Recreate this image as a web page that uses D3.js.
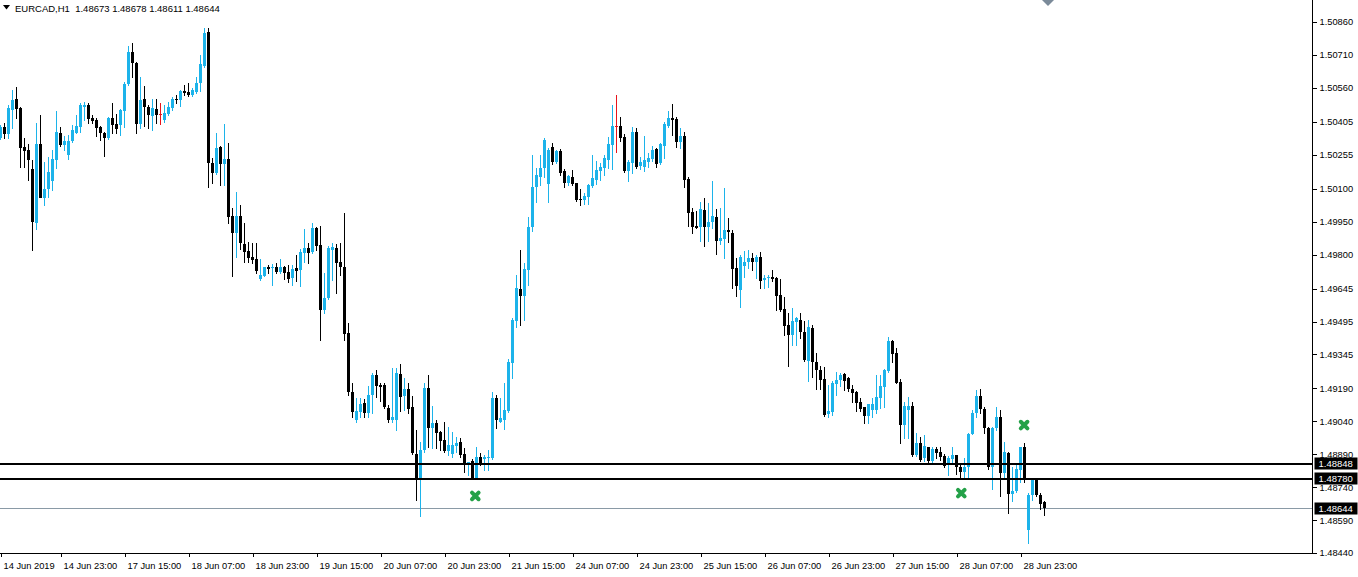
<!DOCTYPE html>
<html><head><meta charset="utf-8">
<script src="https://cdn.jsdelivr.net/npm/d3@7"></script>
<style>html,body{margin:0;padding:0;background:#fff;overflow:hidden}svg{display:block}</style>
</head><body>
<svg id="c" width="1358" height="577"></svg>
<script>
const title = "EURCAD,H1  1.48673 1.48678 1.48611 1.48644";
const opens = [
1.50331,1.50381,1.50349,1.50459,1.50509,1.50468,1.50290,1.50276,1.50190,1.49944,
1.50304,1.50058,1.50099,1.50135,1.50231,1.50354,1.50299,1.50254,1.50317,1.50354,
1.50381,1.50472,1.50481,1.50422,1.50413,1.50381,1.50354,1.50331,1.50422,1.50395,
1.50390,1.50454,1.50577,1.50723,1.50673,1.50395,1.50509,1.50472,1.50431,1.50463,
1.50440,1.50413,1.50440,1.50468,1.50509,1.50504,1.50545,1.50541,1.50527,1.50541,
1.50582,1.50659,1.50814,1.50217,1.50172,1.50290,1.50213,1.50235,1.49976,1.49898,
1.49976,1.49848,1.49816,1.49789,1.49780,1.49689,1.49702,1.49743,1.49739,1.49743,
1.49721,1.49743,1.49721,1.49693,1.49739,1.49730,1.49807,1.49830,1.49812,1.49921,
1.49844,1.49547,1.49602,1.49821,1.49830,1.49766,1.49743,1.49443,1.49174,1.49046,
1.49083,1.49124,1.49078,1.49160,1.49251,1.49206,1.49206,1.49101,1.49046,1.49046,
1.49256,1.49155,1.49187,1.49105,1.48891,1.48782,1.48909,1.49192,1.49010,1.49032,
1.48991,1.48955,1.48905,1.48891,1.48928,1.48946,1.48891,1.48846,1.48859,1.48782,
1.48877,1.48868,1.48873,1.48873,1.49146,1.49037,1.49046,1.49087,1.49306,1.49497,
1.49643,1.49611,1.49730,1.49926,1.50108,1.50153,1.50194,1.50122,1.50290,1.50222,
1.50272,1.50181,1.50126,1.50153,1.50126,1.50053,1.50049,1.50062,1.50112,1.50140,
1.50181,1.50194,1.50231,1.50299,1.50386,1.50386,1.50336,1.50181,1.50217,1.50358,
1.50204,1.50199,1.50222,1.50235,1.50281,1.50217,1.50295,1.50386,1.50422,1.50418,
1.50313,1.50340,1.50144,1.49994,1.49930,1.49926,1.50003,1.49926,1.49948,1.49971,
1.49862,1.49871,1.49912,1.49898,1.49739,1.49638,1.49748,1.49766,1.49784,1.49766,
1.49789,1.49684,1.49693,1.49698,1.49693,1.49616,1.49552,1.49479,1.49433,1.49493,
1.49502,1.49447,1.49315,1.49465,1.49310,1.49274,1.49233,1.49073,1.49083,1.49210,
1.49228,1.49256,1.49237,1.49187,1.49174,1.49128,1.49105,1.49064,1.49092,1.49092,
1.49146,1.49196,1.49269,1.49406,1.49351,1.49219,1.49023,1.49092,1.49110,1.48887,
1.48941,1.48873,1.48923,1.48859,1.48914,1.48900,1.48882,1.48841,1.48868,1.48887,
1.48832,1.48809,1.48832,1.48982,1.49078,1.49155,1.49096,1.49010,1.48832,1.49010,
1.49060,1.48805,1.48896,1.48709,1.48722,1.48818,1.48923,1.48545,1.48704,1.48782,
1.48704,1.48673];
const highs = [
1.50390,1.50399,1.50481,1.50550,1.50563,1.50472,1.50331,1.50304,1.50231,1.50399,
1.50436,1.50222,1.50245,1.50276,1.50454,1.50381,1.50340,1.50345,1.50390,1.50436,
1.50491,1.50495,1.50491,1.50436,1.50422,1.50386,1.50358,1.50427,1.50491,1.50440,
1.50463,1.50586,1.50750,1.50764,1.50677,1.50609,1.50568,1.50481,1.50509,1.50509,
1.50491,1.50481,1.50495,1.50518,1.50527,1.50550,1.50573,1.50582,1.50559,1.50609,
1.50709,1.50832,1.50832,1.50240,1.50354,1.50295,1.50395,1.50308,1.50012,1.50085,
1.50026,1.49944,1.49857,1.49853,1.49853,1.49780,1.49743,1.49752,1.49757,1.49762,
1.49780,1.49748,1.49752,1.49752,1.49798,1.49825,1.49916,1.49853,1.49944,1.49926,
1.49930,1.49716,1.49839,1.49853,1.49848,1.49853,1.49989,1.49488,1.49215,1.49146,
1.49146,1.49142,1.49201,1.49260,1.49274,1.49215,1.49215,1.49114,1.49283,1.49283,
1.49301,1.49237,1.49215,1.49155,1.49000,1.48946,1.49215,1.49251,1.49110,1.49046,
1.48996,1.49037,1.49014,1.48991,1.48969,1.48964,1.48918,1.48855,1.48868,1.48923,
1.48896,1.48887,1.48909,1.49174,1.49160,1.49146,1.49215,1.49324,1.49511,1.49707,
1.49821,1.49762,1.49971,1.50254,1.50194,1.50254,1.50331,1.50286,1.50308,1.50276,
1.50281,1.50190,1.50163,1.50185,1.50126,1.50099,1.50081,1.50122,1.50254,1.50226,
1.50217,1.50254,1.50336,1.50481,1.50527,1.50427,1.50349,1.50231,1.50381,1.50377,
1.50245,1.50340,1.50263,1.50295,1.50286,1.50308,1.50404,1.50454,1.50486,1.50427,
1.50377,1.50358,1.50153,1.50012,1.49998,1.50039,1.50058,1.50035,1.50135,1.50008,
1.50012,1.50103,1.49967,1.49912,1.49784,1.49798,1.49816,1.49821,1.49807,1.49798,
1.49812,1.49707,1.49707,1.49730,1.49698,1.49689,1.49607,1.49534,1.49556,1.49515,
1.49534,1.49497,1.49502,1.49479,1.49351,1.49292,1.49288,1.49206,1.49224,1.49265,
1.49260,1.49260,1.49242,1.49206,1.49178,1.49146,1.49105,1.49119,1.49146,1.49251,
1.49251,1.49278,1.49424,1.49411,1.49374,1.49233,1.49128,1.49151,1.49128,1.48987,
1.48969,1.48978,1.48923,1.48923,1.48923,1.48923,1.48891,1.48882,1.48923,1.48887,
1.48850,1.48873,1.48987,1.49092,1.49183,1.49187,1.49105,1.49014,1.49014,1.49105,
1.49092,1.48946,1.48900,1.48832,1.48841,1.48923,1.48941,1.48713,1.48782,1.48782,
1.48713,1.48678];
const lows = [
1.50327,1.50331,1.50331,1.50377,1.50422,1.50199,1.50199,1.50140,1.49821,1.49916,
1.50117,1.50026,1.50062,1.50094,1.50194,1.50295,1.50276,1.50235,1.50313,1.50354,
1.50358,1.50413,1.50399,1.50399,1.50340,1.50322,1.50249,1.50327,1.50354,1.50354,
1.50345,1.50381,1.50573,1.50609,1.50354,1.50377,1.50386,1.50377,1.50368,1.50399,
1.50395,1.50404,1.50436,1.50459,1.50491,1.50477,1.50527,1.50522,1.50522,1.50536,
1.50545,1.50655,1.50108,1.50126,1.50167,1.50117,1.50117,1.49944,1.49702,1.49789,
1.49825,1.49766,1.49766,1.49762,1.49716,1.49684,1.49702,1.49716,1.49661,1.49716,
1.49716,1.49689,1.49675,1.49661,1.49679,1.49657,1.49766,1.49762,1.49807,1.49821,
1.49411,1.49534,1.49597,1.49684,1.49625,1.49707,1.49411,1.49160,1.49060,1.49037,
1.49060,1.49060,1.49060,1.49078,1.49151,1.49133,1.49101,1.49037,1.49037,1.49000,
1.49087,1.49092,1.49078,1.48891,1.48681,1.48609,1.48900,1.48923,1.48918,1.48918,
1.48909,1.48900,1.48887,1.48877,1.48900,1.48877,1.48809,1.48795,1.48777,1.48782,
1.48841,1.48818,1.48818,1.48868,1.49010,1.49037,1.49005,1.49083,1.49237,1.49470,
1.49479,1.49502,1.49661,1.49907,1.50039,1.50117,1.50153,1.50039,1.50213,1.50217,
1.50163,1.50108,1.50117,1.50117,1.50044,1.50026,1.50030,1.50030,1.50108,1.50122,
1.50140,1.50163,1.50194,1.50190,1.50267,1.50317,1.50176,1.50135,1.50172,1.50194,
1.50190,1.50181,1.50199,1.50226,1.50199,1.50213,1.50240,1.50381,1.50345,1.50290,
1.50286,1.50108,1.49930,1.49898,1.49921,1.49862,1.49839,1.49862,1.49921,1.49803,
1.49848,1.49784,1.49857,1.49648,1.49611,1.49561,1.49698,1.49739,1.49730,1.49693,
1.49648,1.49648,1.49652,1.49679,1.49547,1.49543,1.49433,1.49292,1.49388,1.49388,
1.49420,1.49315,1.49224,1.49242,1.49187,1.49187,1.49064,1.49060,1.49069,1.49160,
1.49201,1.49183,1.49178,1.49128,1.49087,1.49087,1.49032,1.49032,1.49060,1.49078,
1.49101,1.49105,1.49265,1.49310,1.49215,1.48941,1.48964,1.48964,1.48882,1.48882,
1.48859,1.48859,1.48846,1.48850,1.48873,1.48864,1.48832,1.48795,1.48850,1.48800,
1.48782,1.48782,1.48786,1.48982,1.49060,1.49078,1.48987,1.48823,1.48732,1.49000,
1.48700,1.48786,1.48622,1.48677,1.48718,1.48764,1.48764,1.48486,1.48681,1.48700,
1.48640,1.48611];
const closes = [
1.50381,1.50349,1.50468,1.50504,1.50463,1.50286,1.50272,1.50231,1.49948,1.50304,
1.50058,1.50099,1.50176,1.50235,1.50358,1.50299,1.50317,1.50317,1.50368,1.50386,
1.50481,1.50481,1.50418,1.50409,1.50377,1.50354,1.50331,1.50422,1.50390,1.50372,
1.50459,1.50577,1.50723,1.50673,1.50395,1.50504,1.50472,1.50436,1.50468,1.50436,
1.50440,1.50445,1.50472,1.50509,1.50504,1.50545,1.50536,1.50527,1.50550,1.50582,
1.50668,1.50810,1.50217,1.50172,1.50286,1.50213,1.50235,1.49971,1.49898,1.49976,
1.49853,1.49812,1.49784,1.49775,1.49725,1.49707,1.49743,1.49734,1.49743,1.49721,
1.49743,1.49716,1.49689,1.49734,1.49725,1.49812,1.49830,1.49807,1.49921,1.49839,
1.49547,1.49602,1.49830,1.49834,1.49762,1.49743,1.49438,1.49174,1.49083,1.49087,
1.49119,1.49078,1.49160,1.49251,1.49201,1.49196,1.49105,1.49046,1.49060,1.49260,
1.49151,1.49187,1.49096,1.48896,1.48773,1.48909,1.49192,1.49010,1.49032,1.48987,
1.48950,1.48905,1.48932,1.48932,1.48941,1.48887,1.48850,1.48855,1.48782,1.48877,
1.48850,1.48877,1.48877,1.49146,1.49046,1.49055,1.49092,1.49310,1.49502,1.49648,
1.49611,1.49734,1.49926,1.50108,1.50163,1.50194,1.50322,1.50276,1.50222,1.50272,
1.50172,1.50126,1.50158,1.50122,1.50049,1.50049,1.50067,1.50117,1.50149,1.50185,
1.50199,1.50240,1.50304,1.50386,1.50386,1.50331,1.50181,1.50222,1.50358,1.50199,
1.50222,1.50231,1.50240,1.50276,1.50213,1.50304,1.50395,1.50422,1.50413,1.50313,
1.50340,1.50140,1.49989,1.49926,1.49921,1.50008,1.49926,1.49948,1.49976,1.49862,
1.49875,1.49912,1.49903,1.49734,1.49657,1.49789,1.49766,1.49784,1.49766,1.49789,
1.49679,1.49693,1.49698,1.49689,1.49611,1.49547,1.49474,1.49433,1.49497,1.49511,
1.49447,1.49319,1.49470,1.49310,1.49274,1.49228,1.49069,1.49087,1.49215,1.49228,
1.49251,1.49224,1.49187,1.49169,1.49124,1.49096,1.49064,1.49119,1.49119,1.49151,
1.49201,1.49274,1.49406,1.49347,1.49215,1.49023,1.49110,1.49110,1.48887,1.48941,
1.48864,1.48928,1.48859,1.48914,1.48896,1.48877,1.48836,1.48873,1.48887,1.48832,
1.48809,1.48832,1.48982,1.49078,1.49155,1.49096,1.49010,1.48832,1.49010,1.49060,
1.48805,1.48900,1.48709,1.48722,1.48823,1.48923,1.48782,1.48704,1.48777,1.48704,
1.48663,1.48644];
const xTickLabels = ["14 Jun 2019","14 Jun 23:00","17 Jun 15:00","18 Jun 07:00","18 Jun 23:00",
  "19 Jun 15:00","20 Jun 07:00","20 Jun 23:00","21 Jun 15:00","24 Jun 07:00","24 Jun 23:00",
  "25 Jun 15:00","26 Jun 07:00","26 Jun 23:00","27 Jun 15:00","28 Jun 07:00","28 Jun 23:00"];
const xTickBars = [0,15,31,47,63,79,95,111,127,143,159,175,191,207,223,239,255];
const yTickValues = [1.50860,1.50710,1.50560,1.50405,1.50255,1.50100,1.49950,1.49800,1.49645,
  1.49495,1.49345,1.49190,1.49040,1.48890,1.48740,1.48590,1.48440];
const levelLines = [1.48848, 1.48780];
const currentPrice = 1.48644;
const markerBars = [118.7, 240.2, 255.9];
const markerPrices = [1.48700, 1.48713, 1.49023];

const svg = d3.select("#c");
const axisX = 1312.5, plotBottom = 553.5;
const x = d3.scaleLinear().domain([0, 1]).range([0.5, 4.5]);
const y = d3.scaleLinear().domain([1.48440, 1.50860]).range([553, 22]);
const FONT = "'Liberation Sans', Arial, sans-serif";
const BLUE = "#1cb3ea";

// title
svg.append("path").attr("d", "M3,5 L10,5 L6.5,9.5 Z").attr("fill", "#000");
svg.append("text").attr("x", 15).attr("y", 11.5).attr("font-family", FONT)
  .attr("font-size", "9.5px").attr("fill", "#000").style("white-space", "pre").text(title);

// shift marker
svg.append("path").attr("d", "M1042,0 L1054,0 L1048,6 Z").attr("fill", "#7b8a99");

// current price line
svg.append("line").attr("x1", 0).attr("x2", axisX)
  .attr("y1", Math.round(y(currentPrice)) + 0.5).attr("y2", Math.round(y(currentPrice)) + 0.5)
  .attr("stroke", "#8a9aa6").attr("stroke-width", 1);

// candles
const idx = d3.range(opens.length);
const col = i => closes[i] > opens[i] ? BLUE : (closes[i] < opens[i] ? "#000" : "#e8141c");
const g = svg.append("g").attr("shape-rendering", "crispEdges");
g.selectAll("line.w").data(idx).join("line").attr("class", "w")
  .attr("x1", i => Math.round(x(i) - 0.5) + 0.5).attr("x2", i => Math.round(x(i) - 0.5) + 0.5)
  .attr("y1", i => Math.round(y(highs[i]))).attr("y2", i => Math.round(y(lows[i])) + 1)
  .attr("stroke", col).attr("stroke-width", 1);
g.selectAll("rect.b").data(idx).join("rect").attr("class", "b")
  .attr("x", i => Math.round(x(i) - 0.5) - 1)
  .attr("width", 3)
  .attr("y", i => Math.round(y(Math.max(opens[i], closes[i]))))
  .attr("height", i => Math.max(1, Math.round(y(Math.min(opens[i], closes[i]))) - Math.round(y(Math.max(opens[i], closes[i])))))
  .attr("fill", col);

// level lines
svg.selectAll("line.lvl").data(levelLines).join("line").attr("class", "lvl")
  .attr("x1", 0).attr("x2", axisX)
  .attr("y1", d => Math.round(y(d)) + 1).attr("y2", d => Math.round(y(d)) + 1)
  .attr("stroke", "#000").attr("stroke-width", 2).attr("shape-rendering", "crispEdges");

// markers
const mk = svg.selectAll("g.mk").data(d3.range(markerBars.length)).join("g").attr("class", "mk")
  .attr("transform", i => `translate(${x(markerBars[i])},${y(markerPrices[i])})`);
mk.append("path").attr("d", "M-3.3,-3.3 L3.3,3.3 M-3.3,3.3 L3.3,-3.3")
  .attr("stroke", "#24a148").attr("stroke-width", 4).attr("stroke-linecap", "round");

// axes frame
svg.append("line").attr("x1", axisX).attr("x2", axisX).attr("y1", 0).attr("y2", plotBottom)
  .attr("stroke", "#000").attr("shape-rendering", "crispEdges");
svg.append("line").attr("x1", 0).attr("x2", axisX).attr("y1", plotBottom).attr("y2", plotBottom)
  .attr("stroke", "#000").attr("shape-rendering", "crispEdges");

// y axis
const yAxis = d3.axisRight(y).tickValues(yTickValues).tickSize(4).tickSizeOuter(0)
  .tickFormat(d3.format(".5f"));
const ya = svg.append("g").attr("transform", `translate(${axisX},0)`).call(yAxis);
ya.select(".domain").remove();
ya.selectAll("line").attr("shape-rendering", "crispEdges");
ya.selectAll("text").attr("font-family", FONT).attr("font-size", "9.3px").attr("x", 7).attr("fill", "#000");

// x axis
const xAxis = d3.axisBottom(x).tickValues(xTickBars).tickSize(4).tickSizeOuter(0)
  .tickFormat((d, i) => xTickLabels[i]);
const xa = svg.append("g").attr("transform", `translate(0,${plotBottom - 0.5})`).call(xAxis);
xa.select(".domain").remove();
xa.selectAll("line").attr("shape-rendering", "crispEdges");
xa.selectAll("text").attr("font-family", FONT).attr("font-size", "9.3px")
  .attr("text-anchor", "start").attr("x", 2.5).attr("y", 9).attr("fill", "#000");

// price boxes
const boxes = [...levelLines, currentPrice];
const pb = svg.selectAll("g.pb").data(boxes).join("g").attr("class", "pb")
  .attr("transform", d => `translate(${axisX + 2},${Math.round(y(d)) + 0.5})`);
pb.append("rect").attr("x", 0).attr("y", -6).attr("width", 43).attr("height", 12).attr("fill", "#000");
pb.append("text").attr("x", 4).attr("y", 0).attr("dy", "0.35em").attr("font-family", FONT)
  .attr("font-size", "9.5px").attr("fill", "#fff").text(d => d3.format(".5f")(d));
</script>
</body></html>
